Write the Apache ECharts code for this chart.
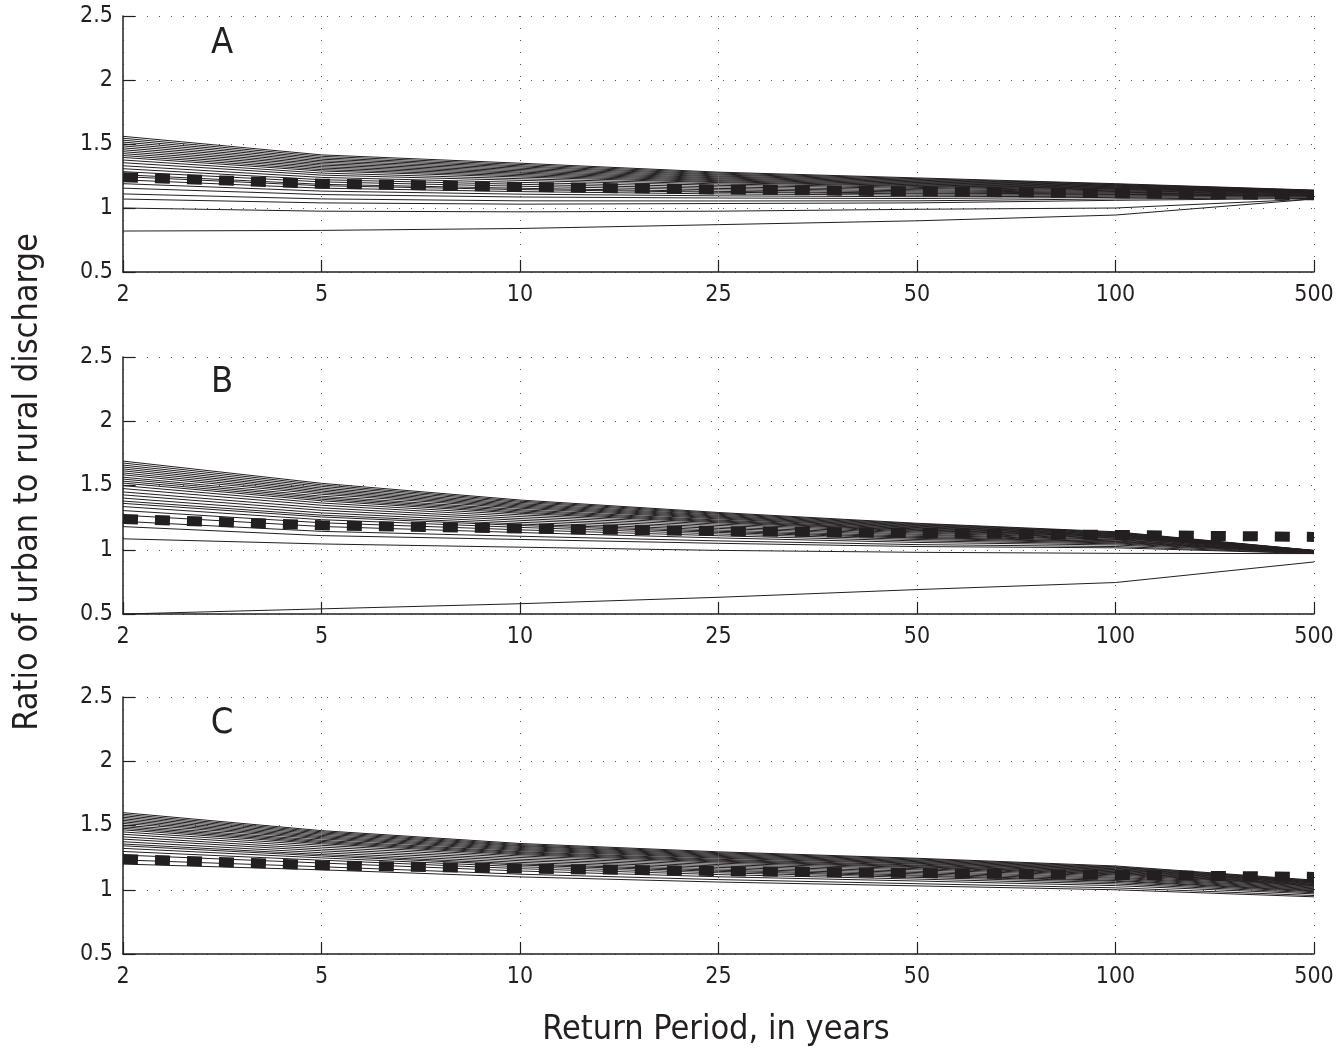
<!DOCTYPE html>
<html>
<head>
<meta charset="utf-8">
<title>Ratio of urban to rural discharge</title>
<script src="https://cdn.jsdelivr.net/npm/echarts@6/dist/echarts.min.js"></script>
<style>
  html, body { margin: 0; padding: 0; background: #fff; }
  #chart { width: 1340px; height: 1053px; }
</style>
</head>
<body>
<div id="chart"></div>
<script>
// return periods, plotted at even spacing
const returnPeriods = ['2', '5', '10', '25', '50', '100', '500'];

// thick dashed reference curve (same in all three panels)
const referenceRatio = [1.24, 1.19, 1.165, 1.145, 1.13, 1.115, 1.10];

// panel A: one row per curve, values at each return period
const ratiosA = [
  [1.56, 1.415, 1.35, 1.28, 1.235, 1.19, 1.14],
  [1.545, 1.404, 1.34, 1.273, 1.229, 1.186, 1.138],
  [1.53, 1.392, 1.33, 1.265, 1.223, 1.182, 1.136],
  [1.515, 1.381, 1.321, 1.258, 1.217, 1.178, 1.134],
  [1.50, 1.369, 1.311, 1.25, 1.211, 1.174, 1.132],
  [1.485, 1.358, 1.301, 1.243, 1.205, 1.17, 1.13],
  [1.47, 1.346, 1.291, 1.235, 1.199, 1.166, 1.128],
  [1.455, 1.335, 1.281, 1.228, 1.193, 1.162, 1.126],
  [1.44, 1.323, 1.272, 1.22, 1.187, 1.158, 1.124],
  [1.425, 1.312, 1.262, 1.213, 1.181, 1.154, 1.122],
  [1.41, 1.30, 1.252, 1.205, 1.175, 1.15, 1.12],
  [1.395, 1.289, 1.242, 1.198, 1.169, 1.146, 1.118],
  [1.375, 1.273, 1.229, 1.188, 1.161, 1.141, 1.116],
  [1.354, 1.257, 1.216, 1.177, 1.153, 1.135, 1.113],
  [1.33, 1.239, 1.20, 1.165, 1.143, 1.129, 1.11],
  [1.307, 1.221, 1.185, 1.153, 1.134, 1.123, 1.106],
  [1.284, 1.204, 1.17, 1.142, 1.125, 1.117, 1.103],
  [1.26, 1.185, 1.154, 1.13, 1.116, 1.11, 1.10],
  [1.245, 1.174, 1.144, 1.123, 1.11, 1.106, 1.098],
  [1.22, 1.155, 1.128, 1.11, 1.10, 1.10, 1.095],
  [1.19, 1.132, 1.108, 1.095, 1.088, 1.092, 1.091],
  [1.155, 1.105, 1.086, 1.078, 1.074, 1.083, 1.086],
  [1.11, 1.071, 1.056, 1.055, 1.056, 1.071, 1.08],
  [1.07, 1.04, 1.03, 1.035, 1.04, 1.06, 1.075],
  [1.0, 0.975, 0.97, 0.975, 0.99, 1.0, 1.07],
  [0.82, 0.825, 0.84, 0.87, 0.90, 0.945, 1.07],
];

// panel B
const ratiosB = [
  [1.69, 1.517, 1.387, 1.29, 1.206, 1.14, 0.995],
  [1.675, 1.505, 1.378, 1.283, 1.201, 1.136, 0.994],
  [1.659, 1.493, 1.369, 1.276, 1.195, 1.133, 0.994],
  [1.644, 1.48, 1.359, 1.268, 1.19, 1.129, 0.993],
  [1.629, 1.468, 1.35, 1.261, 1.184, 1.125, 0.992],
  [1.614, 1.456, 1.341, 1.254, 1.179, 1.121, 0.991],
  [1.598, 1.444, 1.332, 1.247, 1.173, 1.118, 0.991],
  [1.583, 1.432, 1.323, 1.24, 1.168, 1.114, 0.99],
  [1.565, 1.417, 1.312, 1.231, 1.162, 1.109, 0.989],
  [1.55, 1.405, 1.303, 1.224, 1.156, 1.106, 0.988],
  [1.534, 1.393, 1.293, 1.217, 1.151, 1.102, 0.987],
  [1.519, 1.381, 1.284, 1.21, 1.145, 1.098, 0.987],
  [1.499, 1.364, 1.272, 1.20, 1.138, 1.093, 0.986],
  [1.476, 1.346, 1.258, 1.189, 1.13, 1.088, 0.985],
  [1.45, 1.326, 1.243, 1.177, 1.121, 1.081, 0.983],
  [1.427, 1.307, 1.229, 1.166, 1.113, 1.076, 0.982],
  [1.402, 1.287, 1.214, 1.154, 1.104, 1.069, 0.981],
  [1.379, 1.269, 1.20, 1.144, 1.096, 1.064, 0.98],
  [1.361, 1.255, 1.189, 1.135, 1.089, 1.059, 0.979],
  [1.336, 1.234, 1.174, 1.123, 1.08, 1.053, 0.978],
  [1.305, 1.21, 1.155, 1.109, 1.069, 1.046, 0.976],
  [1.269, 1.181, 1.134, 1.092, 1.057, 1.037, 0.974],
  [1.221, 1.143, 1.105, 1.069, 1.04, 1.025, 0.972],
  [1.18, 1.11, 1.08, 1.05, 1.025, 1.015, 0.97],
  [1.085, 1.045, 1.02, 0.995, 0.98, 0.972, 0.97],
  [0.50, 0.54, 0.58, 0.63, 0.69, 0.745, 0.905],
];

// panel C
const ratiosC = [
  [1.60, 1.46, 1.36, 1.295, 1.245, 1.185, 1.075],
  [1.588, 1.451, 1.352, 1.288, 1.239, 1.179, 1.071],
  [1.576, 1.442, 1.344, 1.281, 1.232, 1.174, 1.067],
  [1.564, 1.433, 1.337, 1.274, 1.226, 1.168, 1.063],
  [1.552, 1.423, 1.329, 1.267, 1.219, 1.163, 1.059],
  [1.54, 1.414, 1.321, 1.26, 1.213, 1.157, 1.056],
  [1.528, 1.405, 1.313, 1.253, 1.206, 1.152, 1.052],
  [1.516, 1.396, 1.305, 1.246, 1.20, 1.146, 1.048],
  [1.502, 1.385, 1.296, 1.237, 1.192, 1.14, 1.043],
  [1.49, 1.376, 1.289, 1.23, 1.186, 1.134, 1.039],
  [1.478, 1.367, 1.281, 1.223, 1.179, 1.129, 1.035],
  [1.466, 1.358, 1.273, 1.216, 1.173, 1.123, 1.031],
  [1.45, 1.346, 1.263, 1.207, 1.164, 1.116, 1.026],
  [1.432, 1.332, 1.251, 1.196, 1.155, 1.107, 1.02],
  [1.412, 1.317, 1.238, 1.185, 1.144, 1.098, 1.014],
  [1.394, 1.303, 1.226, 1.174, 1.134, 1.09, 1.008],
  [1.374, 1.288, 1.213, 1.162, 1.124, 1.081, 1.002],
  [1.356, 1.274, 1.201, 1.152, 1.114, 1.072, 0.996],
  [1.342, 1.263, 1.192, 1.143, 1.106, 1.066, 0.991],
  [1.322, 1.248, 1.179, 1.132, 1.096, 1.056, 0.985],
  [1.298, 1.23, 1.164, 1.118, 1.083, 1.045, 0.977],
  [1.27, 1.208, 1.146, 1.101, 1.068, 1.032, 0.968],
  [1.232, 1.179, 1.121, 1.079, 1.047, 1.015, 0.955],
  [1.20, 1.155, 1.10, 1.06, 1.03, 1.0, 0.945],
];

const panelLetters = ['A', 'B', 'C'];
const panels = [ratiosA, ratiosB, ratiosC];

const ink = '#231f20';
const dotColor = '#555';
const font = '"Liberation Sans Narrow", "DejaVu Sans Condensed", "Arial Narrow", sans-serif';
const panelTops = [16, 357, 697];
const panelHeights = [256, 257, 257];
const letterY = [44, 383, 724];

const chart = echarts.init(document.getElementById('chart'), null, { renderer: 'canvas' });

const grid = panelTops.map((top, i) => ({
  left: 123,
  right: 26,
  top,
  height: panelHeights[i],
}));

const dotted = { color: dotColor, width: 1, type: [1, 11] };
const axisLine = { show: true, lineStyle: { color: ink, width: 1.5 } };
const axisTick = { show: true, inside: true, length: 12, lineStyle: { color: ink, width: 1.2 } };
const axisText = { color: ink, fontFamily: font, fontSize: 23 };

const xAxis = panels.map((_, i) => ({
  gridIndex: i,
  type: 'category',
  data: returnPeriods,
  boundaryGap: false,
  axisLine,
  axisTick: { ...axisTick, alignWithLabel: true, interval: 0 },
  axisLabel: { ...axisText, interval: 0, margin: 12 },
  splitLine: { show: true, interval: 0, lineStyle: dotted },
}));

const yAxis = panels.map((_, i) => ({
  gridIndex: i,
  type: 'value',
  min: 0.5,
  max: 2.5,
  interval: 0.5,
  axisLine,
  axisTick,
  axisLabel: { ...axisText, margin: 10 },
  splitLine: { show: true, lineStyle: dotted },
}));

const series = [];
panels.forEach((rows, i) => {
  rows.forEach((row) => {
    series.push({
      type: 'line',
      xAxisIndex: i,
      yAxisIndex: i,
      data: row,
      symbol: 'none',
      silent: true,
      emphasis: { disabled: true },
      lineStyle: { color: ink, width: 1 },
      z: 2,
    });
  });
  series.push({
    type: 'line',
    xAxisIndex: i,
    yAxisIndex: i,
    data: referenceRatio,
    symbol: 'none',
    silent: true,
    emphasis: { disabled: true },
    lineStyle: { color: ink, width: 10, type: [15, 17], cap: 'butt' },
    z: 3,
  });
});

const graphic = panelLetters.map((letter, i) => ({
  type: 'text',
  x: 222,
  y: letterY[i],
  silent: true,
  style: {
    text: letter,
    fill: ink,
    font: `36px ${font}`,
    textAlign: 'center',
    textVerticalAlign: 'middle',
  },
}));
graphic.push({
  type: 'text',
  x: 28,
  y: 482,
  rotation: Math.PI / 2,
  silent: true,
  style: {
    text: 'Ratio of urban to rural discharge',
    fill: ink,
    font: `34px ${font}`,
    textAlign: 'center',
    textVerticalAlign: 'middle',
  },
});
graphic.push({
  type: 'text',
  x: 716,
  y: 1030,
  silent: true,
  style: {
    text: 'Return Period, in years',
    fill: ink,
    font: `34px ${font}`,
    textAlign: 'center',
    textVerticalAlign: 'middle',
  },
});

chart.setOption({
  animation: false,
  backgroundColor: '#ffffff',
  grid,
  xAxis,
  yAxis,
  series,
  graphic,
});
</script>
</body>
</html>
